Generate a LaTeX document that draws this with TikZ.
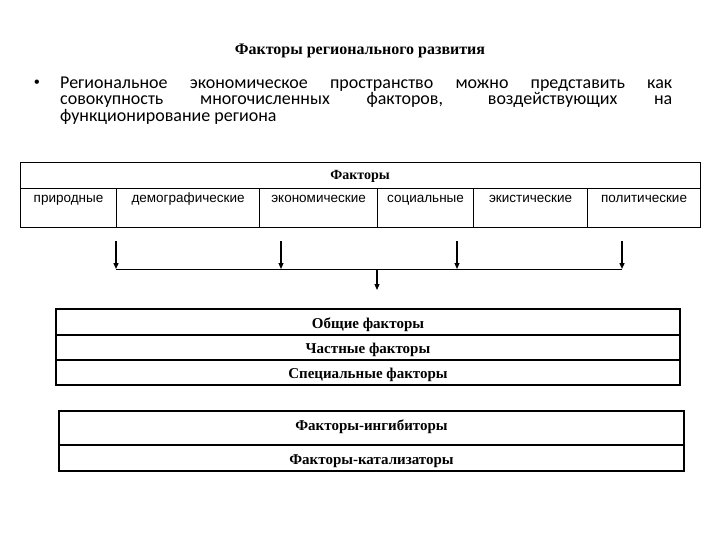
\documentclass[tikz,border=0pt]{standalone}
\usepackage{fontspec}
\setmainfont{Liberation Serif}
\newfontfamily\arialf{Liberation Sans}
\newfontfamily\calib{Carlito}
\usetikzlibrary{arrows.meta}
\begin{document}
\begin{tikzpicture}[x=1pt,y=-1pt,
  cellbox/.style={draw, line width=1.1pt, inner sep=0pt, anchor=north west},
  collabel/.style={font=\arialf\fontsize{13.5}{15}\selectfont, anchor=base, inner sep=0pt},
  rowbox/.style={draw, line width=1.2pt, inner sep=0pt, minimum height=25pt},
  rowlabel/.style={font=\bfseries\fontsize{15}{17}\selectfont, anchor=base, inner sep=0pt},
  paraline/.style={font=\calib\fontsize{18}{16.5}\selectfont, anchor=base west, inner sep=0pt},
  arr/.style={line width=1.1pt, -{Triangle[length=6pt,width=5pt]}},
  conn/.style={line width=1pt}]
\useasboundingbox (0,0) rectangle (720,540);
% title
\node[font=\bfseries\fontsize{16}{18}\selectfont, anchor=base, inner sep=0pt] (title) at (360,55) {Факторы регионального развития};
% bullet
\node[font=\arialf\fontsize{16}{18}\selectfont, inner sep=0pt] (bul) at (37,84) {•};
\node[paraline] (p1) at (60,88.3) {\makebox[612pt][s]{Региональное экономическое пространство можно представить как}};
\node[paraline] (p2) at (60,105) {\makebox[612pt][s]{совокупность многочисленных факторов, воздействующих на}};
\node[paraline] (p3) at (60,121.7) {функционирование региона};
% top table
\node[cellbox, minimum width=680pt, minimum height=26pt] (head) at (20,162) {};
\node[font=\bfseries\fontsize{14}{16}\selectfont, anchor=base, inner sep=0pt] (headl) at (360,180) {Факторы};
\node[cellbox, minimum width=96pt, minimum height=39pt] (c1) at (20,188) {};
\node[cellbox, minimum width=143pt, minimum height=39pt] (c2) at (116,188) {};
\node[cellbox, minimum width=118pt, minimum height=39pt] (c3) at (259,188) {};
\node[cellbox, minimum width=96pt, minimum height=39pt] (c4) at (377,188) {};
\node[cellbox, minimum width=114pt, minimum height=39pt] (c5) at (473,188) {};
\node[cellbox, minimum width=113pt, minimum height=39pt] (c6) at (587,188) {};
\node[collabel] (l1) at (c1.north |- 0,203) {природные};
\node[collabel] (l2) at (c2.north |- 0,203) {демографические};
\node[collabel] (l3) at (c3.north |- 0,203) {экономические};
\node[collabel] (l4) at (c4.north |- 0,203) {социальные};
\node[collabel] (l5) at (c5.north |- 0,203) {экистические};
\node[collabel] (l6) at (c6.north |- 0,203) {политические};
% arrows
\coordinate (a1) at (116,241); \coordinate (b1) at (116,269);
\coordinate (a2) at (281,241); \coordinate (b2) at (281,269);
\coordinate (a3) at (457,241); \coordinate (b3) at (457,269);
\coordinate (a4) at (622,241); \coordinate (b4) at (622,269);
\coordinate (m) at (377,269); \coordinate (mt) at (377,290);
\draw[arr, line width=1.4pt] (a1) -- (b1);
\draw[arr] (a2) -- (b2);
\draw[arr] (a3) -- (b3);
\draw[arr, line width=1.4pt] (a4) -- (b4);
\draw[conn] (b1) -- (b4);
\draw[arr] (m) -- (mt);
% lower boxes
\node[rowbox, minimum width=624pt, minimum height=26pt] (r1) at (368,322) {};
\node[rowbox, minimum width=624pt] (r2) at (368,347.5) {};
\node[rowbox, minimum width=624pt] (r3) at (368,372.5) {};
\node[rowbox, minimum width=625pt, minimum height=34pt] (r4) at (371.5,428) {};
\node[rowbox, minimum width=625pt, minimum height=26pt] (r5) at (371.5,458) {};
\node[rowlabel] (t1) at (368,328) {Общие факторы};
\node[rowlabel] (t2) at (368,353) {Частные факторы};
\node[rowlabel] (t3) at (368,378) {Специальные факторы};
\node[rowlabel] (t4) at (371.5,430) {Факторы-ингибиторы};
\node[rowlabel] (t5) at (371.5,464) {Факторы-катализаторы};
\end{tikzpicture}
\end{document}
